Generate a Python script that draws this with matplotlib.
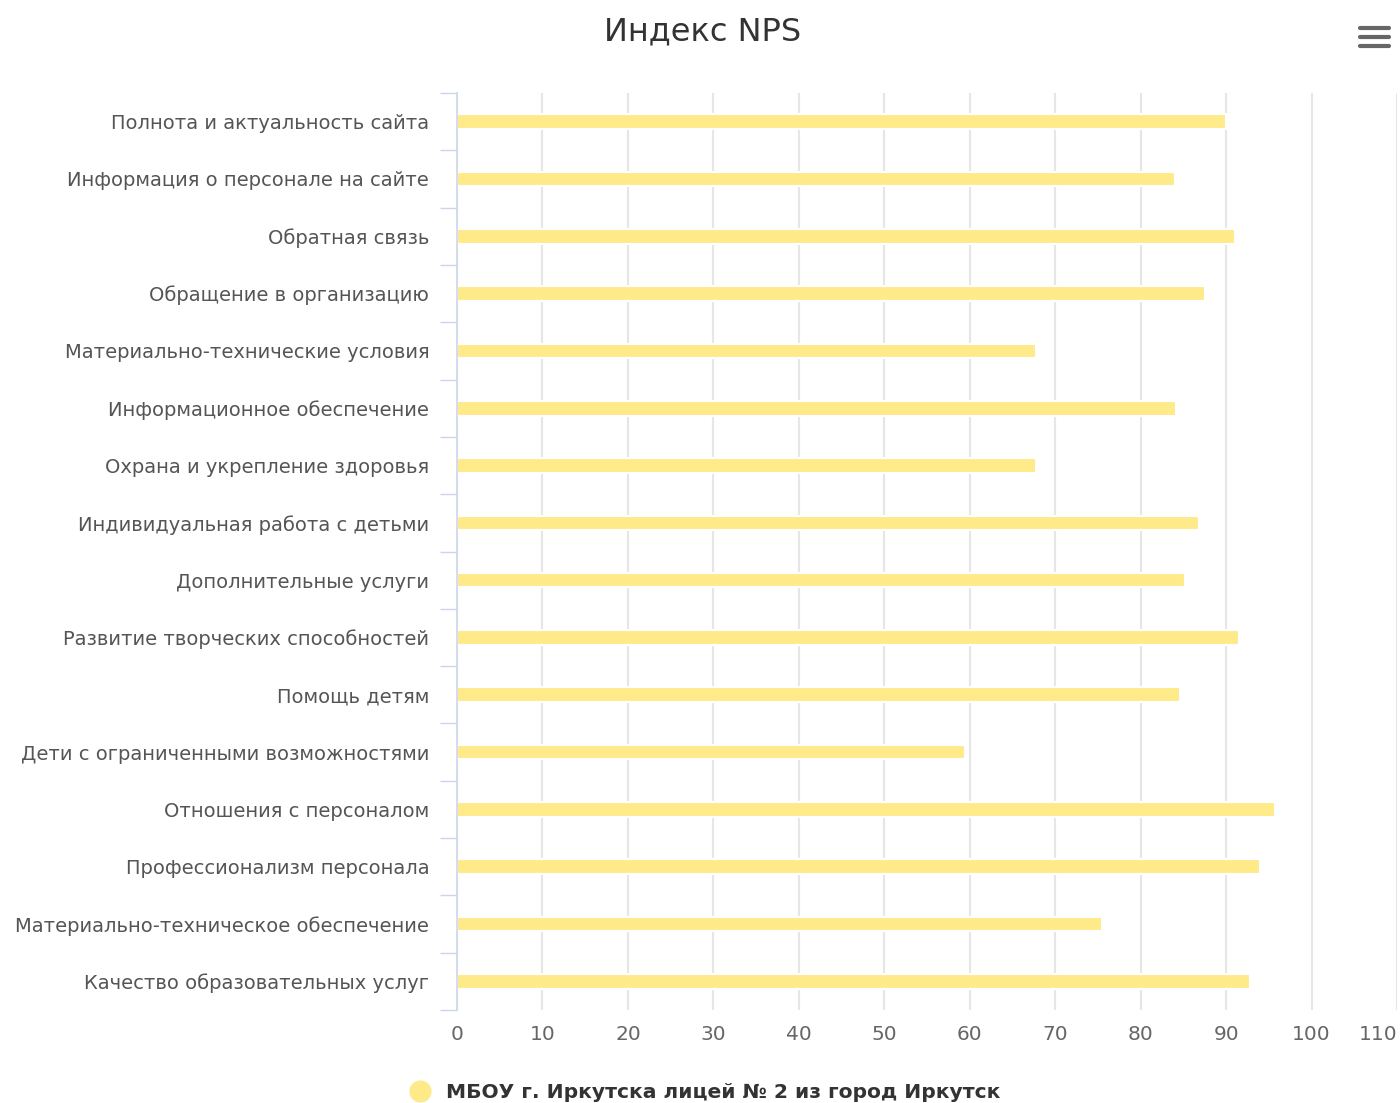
import matplotlib.pyplot as plt
from matplotlib.lines import Line2D
import numpy as np

categories = [
    "Полнота и актуальность сайта",
    "Информация о персонале на сайте",
    "Обратная связь",
    "Обращение в организацию",
    "Материально-технические условия",
    "Информационное обеспечение",
    "Охрана и укрепление здоровья",
    "Индивидуальная работа с детьми",
    "Дополнительные услуги",
    "Развитие творческих способностей",
    "Помощь детям",
    "Дети с ограниченными возможностями",
    "Отношения с персоналом",
    "Профессионализм персонала",
    "Материально-техническое обеспечение",
    "Качество образовательных услуг",
]
nps_values = [90, 84, 91, 87.5, 67.8, 84.1, 67.8, 86.8,
              85.2, 91.5, 84.6, 59.4, 95.7, 94, 75.5, 92.8]
series_name = "МБОУ г. Иркутска лицей № 2 из город Иркутск"
x_ticks = list(range(0, 111, 10))

bar_color = "#FFEA8A"

fig = plt.figure(figsize=(14, 11.03), dpi=100)
ax = fig.add_axes([457 / 1400, 1 - 1010 / 1103, (1397 - 457) / 1400, (1010 - 93) / 1103])

y = np.arange(len(categories))
ax.barh(y, nps_values, height=0.255, color=bar_color, edgecolor="white",
        linewidth=1.5, zorder=2)

ax.set_xlim(0, 110)
ax.set_ylim(len(categories) - 0.5, -0.5)
ax.set_xticks(x_ticks)
ax.set_xticklabels([str(t) for t in x_ticks])
ax.set_yticks(y)
ax.set_yticklabels(categories)
ax.set_yticks(np.arange(len(categories) + 1) - 0.5, minor=True)

ax.tick_params(axis="x", length=0, pad=11, labelsize=14.5, labelcolor="#666666")
ax.tick_params(axis="y", which="major", length=0, pad=20, labelsize=14, labelcolor="#555555")
ax.tick_params(axis="y", which="minor", length=12, width=1, color="#ccd6eb")
# last label kept inside the figure, like the original
ax.get_xticklabels()[-1].set_horizontalalignment("right")

ax.grid(axis="x", color="#e6e6e6", linewidth=1.5, zorder=1)
ax.set_axisbelow(True)
for side in ["top", "right", "bottom"]:
    ax.spines[side].set_visible(False)
ax.spines["left"].set_color("#ccd6eb")
ax.spines["left"].set_linewidth(1.2)
ax.spines["left"].set_zorder(3)

fig.text(0.5015, 1 - 32 / 1103, "Индекс NPS", ha="center", va="center",
         fontsize=23, color="#333333")

# hamburger menu icon
for yy in [28, 37, 46]:
    fig.add_artist(Line2D([1360 / 1400, 1389 / 1400], [1 - yy / 1103, 1 - yy / 1103],
                          color="#666666", linewidth=3, solid_capstyle="round"))

handle = Line2D([], [], marker="o", linestyle="none", markersize=15,
                markerfacecolor=bar_color, markeredgecolor=bar_color)
fig.legend([handle], [series_name], loc="center", bbox_to_anchor=(0.5, 1 - 1093 / 1103),
           frameon=False, handletextpad=0.3, prop={"weight": "bold", "size": 14.6},
           labelcolor="#333333")

fig.savefig("out.png", dpi=100)
